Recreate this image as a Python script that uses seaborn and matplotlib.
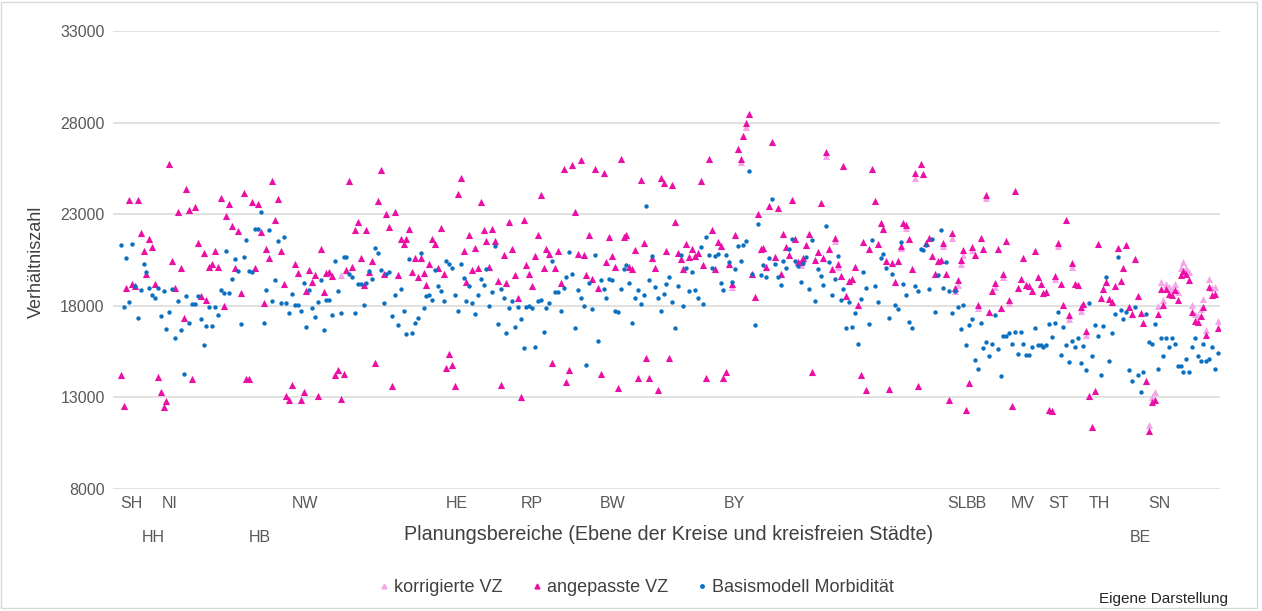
import matplotlib
matplotlib.use("Agg")
import matplotlib.pyplot as plt
import seaborn as sns
import pandas as pd
import numpy as np
from matplotlib.lines import Line2D
from matplotlib.patches import Rectangle

basismodell = [
    21320, 17950, 20620, 18200, 21380, 19100, 17360, 18840, 20260, 19820, 18990, 18570, 18420, 18970, 17430, 18790, 16730, 17670, 18940, 16260, 18260, 16660, 14290, 18510, 17050, 18090, 18090, 18510, 17270, 15840, 16880, 17960, 16880, 17960, 17500,
    18840, 18680, 20990, 18680, 19470, 20570, 19890, 17030, 20660, 21580, 19910, 19840, 22200, 22200, 23100, 17080, 18880, 22150, 18260, 19410, 21520, 18130, 21780, 18130, 17620, 18620, 18040, 18040, 17730, 19250, 16830, 18880, 17870, 17410, 18200,
    19410, 16660, 18310, 18310, 17520, 20420, 18830, 17620, 20680, 20680, 19740, 19560, 17620, 19190, 19190, 18040, 19270, 19890, 19470, 21160, 20900, 19950, 18150, 19740, 19840, 17450, 18570, 16970, 18940, 17730, 16460, 20570, 16500, 17080, 17320, 20900,
    17890, 18510, 18570, 18310, 19950, 19100, 18830, 18260, 20420, 20260, 20090, 18570, 17730, 20260, 19520, 18260, 19100, 18150, 17560, 18570, 19470, 19140, 20020, 18000, 18730, 21250, 16990, 18940, 18420, 16510, 17890, 18260, 16830, 17950, 17270, 15690,
    17950, 17980, 17890, 15730, 18260, 18310, 16570, 17890, 18150, 20420, 18730, 18730, 17730, 18970, 19560, 20940, 19730, 16770, 18840, 18400, 17980, 14770, 19270, 17840, 20770, 16090, 19410, 18940, 18400, 19470, 19410, 17730, 17670, 18940, 20000,
    20200, 19270, 17050, 18420, 18880, 18090, 18570, 23470, 19410, 20730, 19050, 18420, 17730, 18620, 19190, 19580, 18200, 16790, 19100, 20770, 18000, 20090, 18790, 19840, 18880, 18420, 21190, 18090, 21730, 20770, 20070, 20730, 20840, 19270, 18880, 20770,
    20400, 19300, 20000, 21270, 20460, 21320, 21520, 25360, 19710, 16940, 22480, 19670, 20200, 19560, 20620, 23840, 20260, 19560, 19140, 20460, 20040, 21080, 21670, 20460, 20150, 19300, 20350, 20680, 18940, 21580, 18240, 20000, 19620, 19140, 22370,
    20400, 18570, 19470, 20720, 18310, 18940, 16770, 18200, 16830, 17620, 15930, 18370, 19840, 18990, 16990, 21580, 19100, 18200, 20620, 20840, 20040, 17320, 19730, 18040, 17840, 21470, 19190, 18570, 17100, 16770, 19100, 18830, 21100, 21050, 21320, 18940,
    21630, 17670, 19670, 22150, 18990, 20400, 18830, 17620, 18790, 17950, 16730, 18040, 15840, 16940, 17270, 15050, 14550, 17050, 15670, 16040, 15250, 15890, 17520, 15620, 14150, 16370, 16370, 16510, 15930, 16570, 15390, 16570, 15930, 15300, 15300, 15730,
    16770, 15840, 15840, 15730, 15840, 17030, 16310, 17080, 17670, 15300, 16830, 15840, 14940, 16090, 15730, 16260, 14880, 15780, 14510, 18150, 15250, 16940, 16370, 14200, 16880, 19560, 14990, 16510, 17560, 20680, 17780, 17300, 17670, 14510, 13870, 17950,
    14200, 13300, 14400, 17560, 16040, 15890, 16990, 14570, 16260, 15250, 16260, 15730, 16260, 15890, 14720, 14720, 14400, 15080, 14400, 15730, 16260, 15250, 14990, 15890, 14990, 15080, 15730, 14570, 15410,
]

angepasste_vz = [
    14200, 12510, 18970, 23780, 19210, 19060, 23780, 21980, 20990, 19760, 21630, 21190, 19170, 14130, 13280, 12460, 12830, 25730, 20460, 18990, 23140, 20040, 17360, 24350, 23250, 14020, 23410, 21410, 18510, 20880, 18290, 20130, 20260, 20990, 20130,
    23870, 17980, 22920, 23580, 22350, 20070, 22090, 18720, 24130, 14020, 14020, 23670, 20070, 23560, 22040, 18170, 21100, 20610, 24830, 22660, 23820, 20990, 19170, 13100, 12860, 13690, 20280, 19800, 12860, 13280, 18790, 19980, 19300, 19670, 13100,
    21100, 18730, 19800, 19850, 19630, 14240, 14500, 12920, 14290, 19950, 24790, 20130, 22130, 22550, 20610, 19120, 22130, 19870, 20420, 14860, 23730, 25410, 19710, 22990, 22290, 13610, 23140, 19670, 21620, 21400, 21670, 22200, 19820, 20610, 19560,
    20590, 19780, 19120, 20260, 21630, 21380, 20090, 22260, 19740, 14610, 15360, 14770, 13610, 24090, 24990, 20990, 19300, 21890, 19930, 21140, 20040, 23670, 22150, 21560, 20130, 22200, 21510, 19360, 13650, 20770, 19250, 22570, 21100, 19670, 18400, 13030, 22700,
    20240, 19730, 19080, 20700, 21890, 24040, 20090, 21080, 20830, 14880, 20040, 20990, 19230, 25470, 13830, 14500, 25690, 23100, 20830, 25950, 20770, 19670, 21840, 19470, 25470, 18970, 14280, 25230, 20370, 21760, 20720, 20130, 13500, 26040, 21760,
    21870, 20130, 20000, 21050, 14070, 24850, 21450, 15140, 14070, 20590, 20070, 13380, 24960, 24720, 20990, 15140, 24570, 22550, 20900, 20570, 20000, 21360, 20680, 21100, 20720, 20900, 24830, 20240, 14070, 26040, 22130, 20000, 21470, 21250, 14070, 14390,
    20260, 19210, 21870, 26570, 26000, 27250, 27960, 28480, 19730, 18460, 23030, 21100, 21140, 20130, 23450, 26960, 20680, 23360, 19710, 21930, 21230, 20770, 23760, 21620, 20400, 20400, 20590, 21320, 21910, 14400, 20500, 20950, 23620, 20620, 26370,
    21100, 20020, 21690, 20260, 19630, 25630, 18530, 19360, 19490, 20130, 18020, 14200, 21470, 13380, 21100, 25450, 23710, 21400, 22500, 22200, 20440, 13450, 20350, 19290, 20460, 21270, 22530, 22390, 21630, 20020, 25230, 13610, 25730, 25180, 21450, 21690,
    20730, 19730, 20440, 20500, 21410, 19760, 12860, 21950, 18970, 19400, 20500, 21050, 12330, 13760, 21230, 20750, 18070, 21710, 21120, 24070, 17650, 18830, 19250, 21120, 17890, 19760, 21540, 18330, 12550, 24290, 18990, 19450, 20610, 19120, 19080, 18810,
    20990, 19580, 19170, 18720, 18750, 12330, 12280, 19630, 21450, 19170, 18020, 22680, 17520, 20330, 19210, 19120, 17930, 18110, 16640, 13060, 11380, 13340, 21360, 18440, 18940, 19300, 18350, 18200, 19080, 21140, 19360, 20090, 21300, 17930, 17540, 20550,
    18510, 17620, 17080, 13890, 11140, 12730, 12880, 17560, 18940, 18020, 18900, 18620, 18570, 18880, 18290, 19670, 19890, 19760, 19400, 17650, 17190, 17140, 17470, 17930, 16400, 19030, 18570, 18660, 16770,
]

korrigierte_vz = [
    14200, 12510, 18970, 23780, 19210, 19060, 23780, 21980, 20990, 19760, 21630, 21190, 19170, 14130, 13280, 12460, 12830, 25730, 20460, 18990, 23140, 20040, 17360, 24350, 23250, 14020, 23410, 21410, 18510, 20880, 18290, 20130, 20260, 20990, 20130,
    23870, 17980, 22920, 23580, 22350, 20070, 22090, 18720, 24130, 14020, 14020, 23670, 20070, 23560, 22040, 18170, 21100, 20610, 24830, 22660, 23820, 20990, 19170, 13100, 12860, 13690, 20280, 19800, 12860, 13280, 18790, 19980, 19300, 19670, 13100,
    21100, 18730, 19800, 19850, 19630, 14240, 14500, 19670, 14290, 19950, 24790, 20130, 22130, 22550, 20610, 19120, 22130, 19870, 20420, 14860, 23730, 25410, 19710, 22990, 22290, 13610, 23140, 19670, 21620, 21400, 21670, 22200, 19820, 20610, 19560,
    20590, 19780, 19120, 20260, 21630, 21380, 20090, 22260, 19740, 14610, 15360, 14770, 13610, 24090, 24990, 20990, 19300, 21890, 19930, 21140, 20040, 23670, 22150, 21560, 20130, 22200, 21510, 19360, 13650, 20770, 19250, 22570, 21100, 19670, 18400, 13030, 22700,
    20240, 19730, 19080, 20700, 21890, 24040, 20090, 21080, 20830, 14880, 20040, 20990, 19230, 25470, 13830, 14500, 25690, 23100, 20830, 25950, 20770, 19670, 21840, 19470, 25470, 18970, 14280, 25230, 20370, 21760, 20720, 20130, 13500, 26040, 21760,
    21870, 20130, 20000, 21050, 14070, 24850, 21450, 15140, 14070, 20590, 20070, 13380, 24960, 24720, 20990, 15140, 24570, 22550, 20900, 20570, 20000, 21360, 20680, 21100, 20720, 20900, 24830, 20240, 14070, 26040, 22130, 20000, 21470, 21250, 14070, 14390,
    20260, 19050, 21870, 26570, 25850, 27250, 27750, 28480, 19730, 18460, 23030, 21100, 21140, 20130, 23450, 26960, 20680, 23360, 19710, 21930, 21230, 20770, 23760, 21620, 20400, 20250, 20590, 21320, 21910, 14400, 20500, 20950, 23620, 20620, 26200,
    21100, 20020, 21550, 20120, 19630, 25630, 18530, 19360, 19490, 20130, 18020, 14200, 21470, 13380, 21100, 25450, 23710, 21400, 22500, 22200, 20440, 13450, 20350, 19290, 20460, 21130, 22530, 22250, 21630, 20020, 25000, 13610, 25730, 25180, 21450, 21690,
    20730, 19730, 20440, 20500, 21250, 19760, 12860, 21700, 18800, 19150, 20300, 20800, 12330, 13760, 21050, 20750, 17900, 21710, 21120, 23900, 17650, 18830, 19050, 21120, 17890, 19550, 21540, 18150, 12550, 24290, 18990, 19450, 20610, 19120, 19080, 18810,
    20990, 19580, 19170, 18720, 18750, 12330, 12280, 19450, 21250, 19170, 18020, 22680, 17300, 20100, 19210, 19120, 17700, 18110, 16400, 13060, 11380, 13340, 21360, 18440, 18940, 19300, 18350, 18200, 19080, 21140, 19360, 20090, 21300, 17930, 17540, 20550,
    18510, 17620, 17080, 13890, 11500, 13010, 13280, 17980, 19300, 18330, 19210, 19030, 18940, 19210, 18750, 20070, 20370, 20070, 19820, 18020, 17560, 17430, 17800, 18350, 16700, 19450, 18970, 19030, 17190,
]

region_labels = ["SH", "HH", "NI", "HB", "NW", "HE", "RP", "BW", "BY", "SL", "BB", "MV", "ST", "TH", "BE", "SN"]
region_pos = [3.6, 11.3, 17.3, 48.7, 64.5, 117.7, 143.9, 172.3, 214.9, 292.6, 299.6, 315.7, 328.4, 342.4, 357.0, 363.7]
region_row = [0, 1, 0, 1, 0, 0, 0, 0, 0, 0, 0, 0, 0, 0, 1, 0]
y_ticks = [8000, 13000, 18000, 23000, 28000, 33000]

n = len(basismodell)
idx = np.arange(n)
df = pd.DataFrame({"idx": idx, "korr": korrigierte_vz[:n], "ang": angepasste_vz[:n], "basis": basismodell})

c_korr = "#F5A6E8"
c_ang = "#EC0FA6"
c_basis = "#0B70C0"
txt = "#404040"

sns.set_theme(style="white")
plt.rcParams["font.family"] = ["Liberation Sans", "DejaVu Sans"]

fig = plt.figure(figsize=(12.62, 6.11), dpi=100)
ax = fig.add_axes([113 / 1262, 1 - 489 / 611, 1107 / 1262, 458 / 611])

sns.scatterplot(data=df, x="idx", y="korr", ax=ax, marker="^", s=26, color=c_korr, linewidth=0, zorder=3)
sns.scatterplot(data=df, x="idx", y="ang", ax=ax, marker="^", s=26, color=c_ang, linewidth=0, zorder=4)
sns.scatterplot(data=df, x="idx", y="basis", ax=ax, marker="o", s=10, color=c_basis, linewidth=0, zorder=5)

ax.set_ylim(8000, 33000)
ax.set_xlim(-2.7, n - 1 + 0.8)
ax.set_yticks(y_ticks)
ax.set_yticklabels([str(v) for v in y_ticks], fontsize=11.5, color="#595959")
ax.tick_params(axis="y", length=0, pad=6)
ax.set_xticks([])
ax.set_xlabel("")
ax.set_ylabel("")
for sp in ax.spines.values():
    sp.set_visible(False)
ax.grid(axis="y", color="#d9d9d9", linewidth=1.1)
ax.set_axisbelow(True)

for lab, pos, row in zip(region_labels, region_pos, region_row):
    yy = -0.031 if row == 0 else -0.105
    ax.text(pos, yy, lab, transform=ax.get_xaxis_transform(), ha="center", va="center",
            fontsize=11.5, color="#595959")

fig.text(669 / 1262, 1 - 535 / 611, "Planungsbereiche (Ebene der Kreise und kreisfreien Städte)",
         ha="center", va="center", fontsize=14.2, color=txt)
fig.text(36 / 1262, 1 - 262 / 611, "Verhältniszahl", rotation=90, ha="center", va="center",
         fontsize=13, color=txt)

handles = [
    Line2D([], [], marker="^", linestyle="", color=c_korr, markersize=3.5),
    Line2D([], [], marker="^", linestyle="", color=c_ang, markersize=3.5),
    Line2D([], [], marker="o", linestyle="", color=c_basis, markersize=2.5),
]
fig.legend(handles, ["korrigierte VZ", "angepasste VZ", "Basismodell Morbidität"],
           loc="center", bbox_to_anchor=(637 / 1262, 1 - 588 / 611), ncol=3, frameon=False,
           fontsize=13, handlelength=0.4, handletextpad=0.35, columnspacing=1.7,
           labelcolor=txt)

fig.text(1228 / 1262, 1 - 599 / 611, "Eigene Darstellung", ha="right", va="center",
         fontsize=11, color="#262626")

fig.patches.append(Rectangle((1 / 1262, 3 / 611), 1256 / 1262, 606 / 611, transform=fig.transFigure,
                             fill=False, edgecolor="#d9d9d9", linewidth=1))

fig.savefig("out.png", dpi=100)
